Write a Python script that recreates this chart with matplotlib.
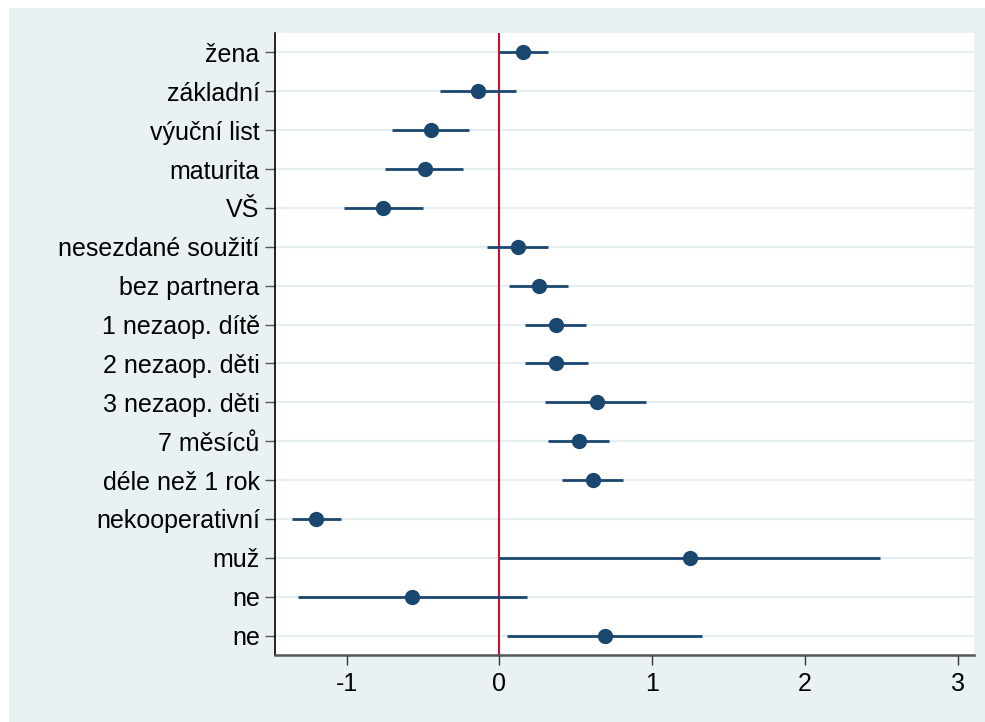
import matplotlib
matplotlib.use("Agg")
import matplotlib.pyplot as plt
from matplotlib.patches import Rectangle

labels = ["žena", "základní", "výuční list", "maturita", "VŠ",
          "nesezdané soužití", "bez partnera", "1 nezaop. dítě",
          "2 nezaop. děti", "3 nezaop. děti", "7 měsíců",
          "déle než 1 rok", "nekooperativní", "muž", "ne", "ne"]
coef = [0.157, -0.14, -0.45, -0.49, -0.76, 0.12, 0.26, 0.37,
        0.37, 0.64, 0.52, 0.61, -1.20, 1.25, -0.57, 0.69]
ci_low = [0.0, -0.39, -0.70, -0.75, -1.02, -0.08, 0.06, 0.17,
          0.17, 0.30, 0.32, 0.41, -1.36, 0.0, -1.32, 0.05]
ci_high = [0.32, 0.11, -0.20, -0.24, -0.50, 0.32, 0.45, 0.57,
           0.58, 0.96, 0.72, 0.81, -1.04, 2.49, 0.18, 1.33]
xticks = [-1, 0, 1, 2, 3]

W, H = 985, 722
fig = plt.figure(figsize=(W / 100, H / 100), dpi=100)
fig.patch.set_facecolor("white")
bg = "#EAF1F3"
fig.patches.append(Rectangle((9 / W, 0), 1 - 9 / W, 1 - 8 / H,
                             transform=fig.transFigure, facecolor=bg,
                             edgecolor="none", zorder=-10))

left, right, top, bottom = 275, 974, 33, 655
ax = fig.add_axes([left / W, 1 - bottom / H, (right - left) / W, (bottom - top) / H])
ax.set_facecolor("white")

navy = "#1A476F"
n = len(labels)
ypos = list(range(n))
for i in range(n):
    ax.axhline(ypos[i], color="#E6EEF1", lw=1.6, zorder=0)
ax.axvline(0, color="#C8102E", lw=1.5, zorder=1)
ax.hlines(ypos, ci_low, ci_high, color=navy, lw=2.0, zorder=2)
ax.plot(coef, ypos, "o", color=navy, ms=10, zorder=3, linestyle="none")

ax.set_ylim(n - 0.5, -0.5)
ax.set_xlim(-1.469, 3.108)
ax.set_yticks(ypos)
ax.set_yticklabels(labels)
ax.set_xticks(xticks)
ax.set_xticklabels([str(t) for t in xticks])

for s in ["top", "right"]:
    ax.spines[s].set_visible(False)
ax.spines["left"].set_color("black")
ax.spines["left"].set_linewidth(1.2)
ax.spines["bottom"].set_color("#555555")
ax.spines["bottom"].set_linewidth(1.8)
ax.tick_params(axis="y", length=7, width=1.0, color="#555555", pad=4,
               labelsize=18, labelcolor="black")
ax.tick_params(axis="x", length=7, width=1.0, color="#333333", pad=5,
               labelsize=18, labelcolor="black")
for lab in ax.get_yticklabels() + ax.get_xticklabels():
    lab.set_fontfamily(["Liberation Sans", "DejaVu Sans"])

fig.savefig("out.png", dpi=100)
